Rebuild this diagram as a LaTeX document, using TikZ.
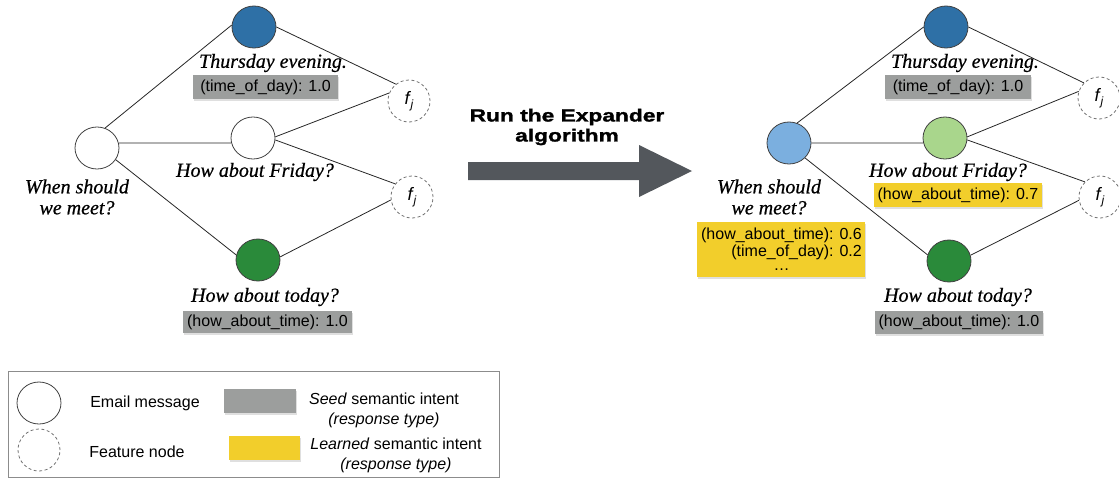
\documentclass[tikz,border=0pt]{standalone}
\usepackage{fontspec}
\setmainfont{Liberation Serif}
\setsansfont{Liberation Sans}
\newfontfamily\capfont[FakeBold=0.6]{Liberation Serif}
\newfontfamily\runfont[FakeStretch=1.3,FakeBold=1.6]{Liberation Sans}
\usetikzlibrary{shapes.geometric,shadows}
\definecolor{thublue}{HTML}{2E70A6}
\definecolor{todgreen}{HTML}{2A8A3A}
\definecolor{ltblue}{HTML}{7BAFDF}
\definecolor{ltgreen}{HTML}{A9D68C}
\definecolor{seedgray}{HTML}{9C9E9D}
\definecolor{learnyel}{HTML}{F2CE2B}
\definecolor{arrgray}{HTML}{53575C}
\tikzset{
  msg/.style={ellipse,draw=black!75,line width=0.8pt,minimum width=44pt,minimum height=42pt,inner sep=0pt},
  feat/.style={circle,draw=black!55,dashed,dash pattern=on 3pt off 2.5pt,line width=0.8pt,minimum size=42pt,inner sep=0pt,font=\sffamily\fontsize{18}{18}\selectfont},
  captxt/.style={font=\capfont\itshape\fontsize{20}{21}\selectfont,inner sep=0pt,align=center},
  seed/.style={fill=seedgray,inner sep=0pt,font=\sffamily\fontsize{16}{18}\selectfont,drop shadow={opacity=0.25,shadow xshift=1pt,shadow yshift=-1.5pt}},
  learned/.style={fill=learnyel,inner sep=0pt,font=\sffamily\fontsize{16}{18}\selectfont,drop shadow={opacity=0.25,shadow xshift=1pt,shadow yshift=-1.5pt}},
  edge/.style={draw=black!85,line width=0.8pt},
  legtxt/.style={font=\sffamily\fontsize{16}{20}\selectfont,inner sep=0pt,align=center}
}
\newcommand{\fj}{\textit{f}\kern-0.5pt\raisebox{-4pt}{\fontsize{12}{12}\selectfont\itshape j}}
\begin{document}
\begin{tikzpicture}[x=1pt,y=-1pt]
\useasboundingbox (0,0) rectangle (1119,479);
% ---------- left graph ----------
\node[msg] (lw) at (97,148) {};
\node[msg,fill=thublue] (lt) at (254,27) {};
\node[msg] (lf) at (253,138) {};
\node[msg,fill=todgreen] (ld) at (258,260) {};
\node[feat] (lf1) at (409,101) {\fj};
\node[feat] (lf2) at (412,197) {\fj};
\draw[edge] (lw.68) -- (lt.175);
\draw[edge] (lw.13) -- (lf.193);
\draw[edge] (lw.-32) -- (ld.167);
\draw[edge] (lt.0) -- (lf1.128);
\draw[edge] (lf.3) -- (lf1.158);
\draw[edge] (lf.-5) -- (lf2.142);
\draw[edge] (ld.8) -- (lf2.188);
\node[captxt] (ltl) at (273,63) {Thursday evening.};
\node[seed,minimum width=145pt,minimum height=24pt] (lts) at (265.5,87) {(time\_of\_day): 1.0};
\node[captxt] (lfl) at (255,172) {How about Friday?};
\node[captxt] (lwl) at (77,197) {When should\\we meet?};
\node[captxt] (ldl) at (265,297) {How about today?};
\node[seed,minimum width=169pt,minimum height=22pt] (lds) at (267.5,322) {(how\_about\_time): 1.0};
% ---------- arrow ----------
\fill[arrgray] (468,162) -- (639,162) -- (639,145) -- (692,171) -- (639,197) -- (639,180) -- (468,180) -- cycle;
\node[font=\runfont\bfseries\fontsize{17.5}{20}\selectfont,align=center,inner sep=0pt] (run) at (567,127) {Run the Expander\\algorithm};
% ---------- right graph ----------
\node[msg,fill=ltblue] (rw) at (789,143) {};
\node[msg,fill=thublue] (rt) at (946,27) {};
\node[msg,fill=ltgreen] (rf) at (945,138) {};
\node[msg,fill=todgreen] (rd) at (949,261) {};
\node[feat] (rf1) at (1099,98) {\fj};
\node[feat] (rf2) at (1100,197) {\fj};
\draw[edge] (rw.68) -- (rt.180);
\draw[edge] (rw.0) -- (rf.193);
\draw[edge] (rw.-43) -- (rd.164);
\draw[edge] (rt.0) -- (rf1.135);
\draw[edge] (rf.3) -- (rf1.162);
\draw[edge] (rf.-5) -- (rf2.135);
\draw[edge] (rd.15) -- (rf2.189);
\node[captxt] (rtl) at (965,63) {Thursday evening.};
\node[seed,minimum width=146pt,minimum height=24pt] (rts) at (958,87) {(time\_of\_day): 1.0};
\node[captxt] (rfl) at (948,172) {How about Friday?};
\node[learned,minimum width=168pt,minimum height=24pt] (rfs) at (958,195) {(how\_about\_time): 0.7};
\node[captxt] (rwl) at (769,197) {When should\\we meet?};
\node[learned,minimum width=168pt,minimum height=55pt] (rws) at (781,249.5) {};
\node[font=\sffamily\fontsize{16}{18}\selectfont,inner sep=0pt] (rwt) at (781.5,251) {\begin{tabular}{@{}r@{}}(how\_about\_time): 0.6\\[-1pt](time\_of\_day): 0.2\\[-4pt]\multicolumn{1}{@{}c@{}}{\dots}\end{tabular}};
\node[captxt] (rdl) at (958,297) {How about today?};
\node[seed,minimum width=168pt,minimum height=23pt] (rds) at (959,322.5) {(how\_about\_time): 1.0};
% ---------- legend ----------
\node[draw=black!45,line width=0.8pt,minimum width=491pt,minimum height=106pt,inner sep=0pt] (leg) at (253.5,424) {};
\node[msg] (lgm) at (39,403) {};
\node[feat] (lgf) at (39,450) {};
\node[legtxt] (lgmt) at (145,403) {Email message};
\node[legtxt] (lgft) at (137,452) {Feature node};
\node[seed,minimum width=72pt,minimum height=24pt] (lgs) at (260,401) {};
\node[learned,minimum width=71pt,minimum height=24pt] (lgl) at (264.5,448) {};
\node[legtxt] (lgst) at (384,410) {\textit{Seed} semantic intent\\\textit{(response type)}};
\node[legtxt] (lglt) at (396,455.5) {\textit{Learned} semantic intent\\\textit{(response type)}};
\end{tikzpicture}
\end{document}
